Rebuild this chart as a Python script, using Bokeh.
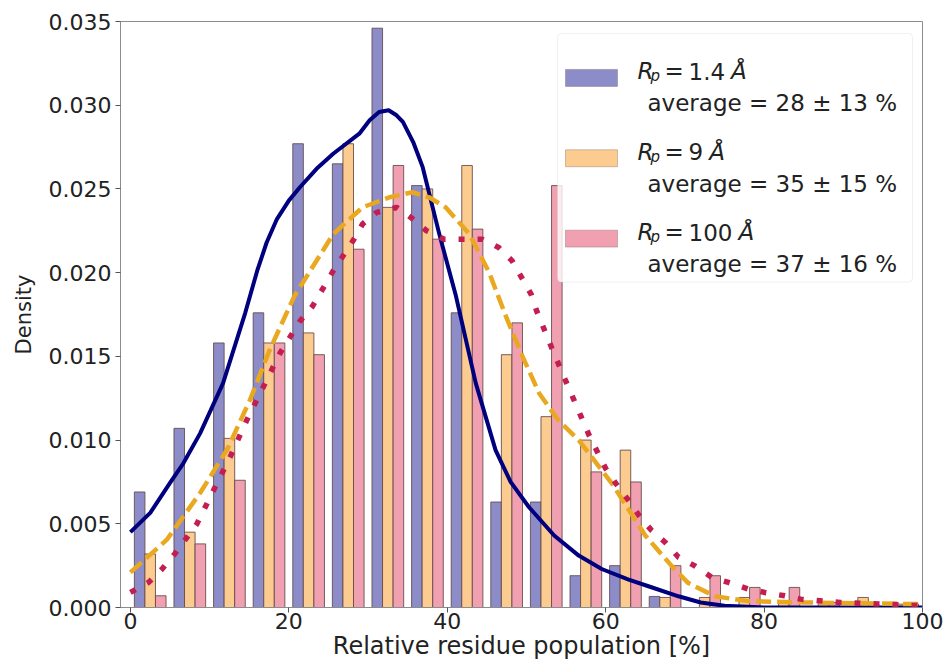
import numpy as np
from bokeh.plotting import figure
from bokeh.models import Range1d, FixedTicker, PrintfTickFormatter, BoxAnnotation, Label
from bokeh.embed import file_html
from bokeh.resources import INLINE

# ---------------- data ----------------
bin_edges = [0, 5, 10, 15, 20, 25, 30, 35, 40, 45, 50, 55, 60, 65, 70, 75, 80, 85, 90, 95, 100]

density_rp14 = [0.0069, 0.0107, 0.0158, 0.0176, 0.0277, 0.0265, 0.0346, 0.0252, 0.0176, 0.0063,
                0.0063, 0.0019, 0.0025, 0.00066, 0.0, 0.0, 0.0, 0.0, 0.0, 0.0]
density_rp9 = [0.0032, 0.0045, 0.0101, 0.0158, 0.0164, 0.0277, 0.0239, 0.0250, 0.0264, 0.0151,
               0.0114, 0.0100, 0.0094, 0.0006, 0.0006, 0.0006, 0.0004, 0.0003, 0.0006, 0.0002]
density_rp100 = [0.0007, 0.0038, 0.0076, 0.0158, 0.0151, 0.0214, 0.0264, 0.0220, 0.0226, 0.0170,
                 0.0252, 0.0081, 0.0075, 0.0025, 0.0019, 0.0012, 0.0012, 0.0003, 0.0002, 0.0002]

kde_x_rp14 = [0, 2.5, 5.0, 6.7, 8.8, 11.7, 14.5, 16.0, 17.2, 18.5, 20.0, 21.4, 23.5, 25.6, 28.9,
              30.2, 31.4, 32.6, 33.6, 34.4, 35.7, 36.9, 39.0, 41.1, 43.6, 46.1, 48.0, 50.3, 53.5,
              56.6, 59.5, 62.9, 65.4, 69.2, 72.0, 75.0, 80.0, 90.0, 100.0]
kde_y_rp14 = [0.0045, 0.00565, 0.00744, 0.00863, 0.0104, 0.0134, 0.0176, 0.0201, 0.0218, 0.0232,
              0.0243, 0.0251, 0.0262, 0.0271, 0.0283, 0.0291, 0.0296, 0.0297, 0.0294, 0.0290,
              0.0278, 0.0263, 0.0223, 0.0186, 0.0134, 0.0094, 0.0075, 0.0060, 0.0043, 0.0031,
              0.0023, 0.00167, 0.00127, 0.00067, 0.0003, 0.0001, 0.0, 0.0, 0.0]

kde_x_rp9 = [0, 4.6, 8.8, 12.2, 15.1, 17.6, 20.7, 25.6, 29.3, 32.7, 35.6, 37.7, 39.8, 42.8, 45.3,
             47.4, 49.5, 51.6, 54.0, 56.6, 60.8, 65.0, 68.3, 70.4, 73.8, 78.0, 85, 92, 100]
kde_y_rp9 = [0.0021, 0.00405, 0.00684, 0.00942, 0.0124, 0.0154, 0.0186, 0.0223, 0.0239, 0.0245,
             0.0248, 0.0245, 0.0239, 0.0223, 0.0200, 0.0174, 0.0150, 0.0128, 0.0112, 0.0100,
             0.0074, 0.0043, 0.0025, 0.00147, 0.00067, 0.00038, 0.0003, 0.00025, 0.0002]

kde_x_rp100 = [0, 2.3, 4.0, 5.6, 8.4, 10.5, 12.6, 14.7, 16.8, 18.9, 21.4, 23.0, 25.6, 28.1, 29.3,
               31.1, 33.6, 35.4, 37.4, 39.6, 41.9, 44.4, 46.5, 48.2, 49.4, 50.6, 51.3, 53.2, 54.9,
               56.9, 57.9, 60.0, 61.3, 62.9, 64.2, 65.8, 67.5, 69.2, 71.2, 73.4, 75.5, 78.0, 80.1,
               82.6, 84.6, 87.1, 89.6, 100]
kde_y_rp100 = [0.0009, 0.0015, 0.0023, 0.0032, 0.0050, 0.0070, 0.0090, 0.0112, 0.0132, 0.0152,
               0.0171, 0.0180, 0.0201, 0.0219, 0.0229, 0.0236, 0.0239, 0.0233, 0.0225, 0.0220,
               0.0220, 0.0220, 0.0215, 0.0207, 0.0197, 0.0187, 0.0177, 0.0155, 0.0136, 0.0114,
               0.0103, 0.0083, 0.0074, 0.0064, 0.0055, 0.0046, 0.0039, 0.0030, 0.0025, 0.0018,
               0.0015, 0.0011, 0.0009, 0.0007, 0.0005, 0.0004, 0.0003, 0.0001]

rp_values = ["1.4", "9", "100"]
averages = ["average = 28 ± 13 %", "average = 35 ± 15 %", "average = 37 ± 16 %"]
x_ticks = [0, 20, 40, 60, 80, 100]
y_ticks = [0.000, 0.005, 0.010, 0.015, 0.020, 0.025, 0.030, 0.035]
x_title = "Relative residue population [%]"
y_title = "Density"

# ---------------- styles / layout ----------------
FONT = "DejaVu Sans"
TXT = "#222222"
bar_fill = ["#8C8DC8", "#FCCB8F", "#F0A0B0"]
bar_edge = "#634848"
line_col = ["#00007F", "#E9A820", "#C41E50"]

X0, X1 = -1.25, 100
Y0, Y1 = 0.0, 0.035
W, H = 943, 662
FL, FR, FT, FB = 120, 922, 21, 608   # frame edges in canvas pixels

p = figure(width=W, height=H, x_range=Range1d(X0, X1), y_range=Range1d(Y0, Y1),
           output_backend="svg", toolbar_location=None,
           min_border_left=FL, min_border_right=W - FR, min_border_top=FT, min_border_bottom=H - FB)
p.background_fill_color = "white"
p.border_fill_color = "white"
p.grid.visible = False
p.outline_line_color = "#8c8c8c"
p.outline_line_width = 1

# bars (grouped histogram like matplotlib)
edges = np.array(bin_edges, dtype=float)
centers = (edges[:-1] + edges[1:]) / 2
binw = np.diff(edges)
barw = 0.8 * binw / 3
series = [density_rp14, density_rp9, density_rp100]
for k, vals in enumerate(series):
    xs = centers + (k - 1) * barw
    p.vbar(x=xs, top=vals, bottom=0, width=barw, fill_color=bar_fill[k],
           line_color=bar_edge, line_width=1, line_alpha=0.85)

# density curves
p.line(kde_x_rp14, kde_y_rp14, line_color=line_col[0], line_width=4, line_join="round")
p.line(kde_x_rp9, kde_y_rp9, line_color=line_col[1], line_width=4.5, line_dash="15 6")
p.line(kde_x_rp100, kde_y_rp100, line_color=line_col[2], line_width=5.5, line_dash="6 13")

# axes
for ax in (p.xaxis[0], p.yaxis[0]):
    ax.axis_line_color = "#8c8c8c"
    ax.major_tick_line_color = "#555555"
    ax.major_tick_in = 0
    ax.major_tick_out = 5
    ax.minor_tick_line_color = None
    ax.major_label_text_font = FONT
    ax.major_label_text_font_size = "22px"
    ax.major_label_text_color = TXT
    ax.axis_label_text_font = FONT
    ax.axis_label_text_font_style = "normal"
    ax.axis_label_text_color = TXT

p.xaxis.ticker = FixedTicker(ticks=x_ticks)
p.yaxis.ticker = FixedTicker(ticks=y_ticks)
p.yaxis.formatter = PrintfTickFormatter(format="%.3f")
p.xaxis.axis_label = x_title
p.xaxis.axis_label_text_font_size = "24px"
p.xaxis.major_label_standoff = 0
p.xaxis.axis_label_standoff = 0
p.yaxis.axis_label = y_title
p.yaxis.axis_label_text_font_size = "21px"
p.yaxis.major_label_standoff = 4
p.yaxis.axis_label_standoff = 10


# page-pixel -> data helpers for annotation placement
def fx(px):
    return X0 + (px - FL) / (FR - FL) * (X1 - X0)


def fy(py):
    return Y0 + (FB - py) / (FB - FT) * (Y1 - Y0)


# ---------------- legend (drawn manually) ----------------
p.add_layout(BoxAnnotation(left=fx(557), right=fx(912), top=fy(33), bottom=fy(282),
                           fill_color="white", fill_alpha=0.8, line_color="#cccccc",
                           line_width=1, border_radius=4))

step = 80.5
LS = 23                      # legend font size in px
digit_w = 0.636 * LS
for k in range(3):
    dy = k * step
    p.add_layout(BoxAnnotation(left=fx(565), right=fx(617), top=fy(69 + dy), bottom=fy(86 + dy),
                               fill_color=bar_fill[k], fill_alpha=1, line_color=bar_edge,
                               line_width=1))
    base1 = 71 + dy
    base2 = 103 + dy
    num_w = sum(0.318 * LS if ch == "." else digit_w for ch in rp_values[k])
    p.add_layout(Label(x=fx(637), y=fy(base1), text="R", text_font=FONT, text_font_style="italic",
                       text_font_size=f"{LS}px", text_baseline="alphabetic", text_color=TXT))
    p.add_layout(Label(x=fx(650), y=fy(base1 + 5), text="p", text_font=FONT, text_font_style="italic",
                       text_font_size="15px", text_baseline="alphabetic", text_color=TXT))
    p.add_layout(Label(x=fx(664), y=fy(base1), text="=", text_font=FONT,
                       text_font_size=f"{LS}px", text_baseline="alphabetic", text_color=TXT))
    p.add_layout(Label(x=fx(688), y=fy(base1), text=rp_values[k], text_font=FONT,
                       text_font_size=f"{LS}px", text_baseline="alphabetic", text_color=TXT))
    p.add_layout(Label(x=fx(688 + num_w + 6), y=fy(base1), text="Å", text_font=FONT,
                       text_font_style="italic", text_font_size=f"{LS}px",
                       text_baseline="alphabetic", text_color=TXT))
    p.add_layout(Label(x=fx(647), y=fy(base2), text=averages[k], text_font=FONT,
                       text_font_size=f"{LS}px", text_baseline="alphabetic", text_color=TXT))

open("out.html", "w").write(file_html(p, INLINE))
